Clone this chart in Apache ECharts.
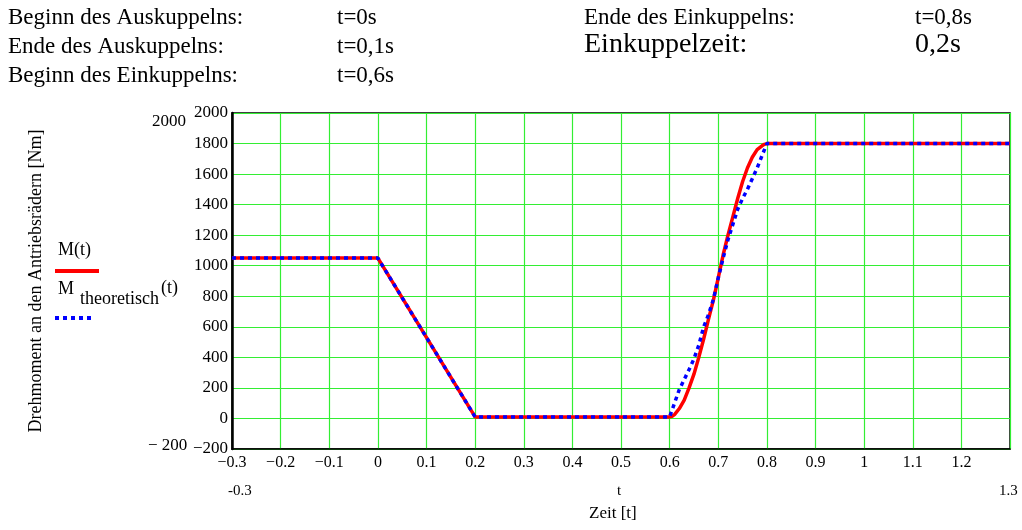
<!DOCTYPE html>
<html><head><meta charset="utf-8">
<script src="https://cdn.jsdelivr.net/npm/echarts@6/dist/echarts.min.js"></script>
<style>html,body{margin:0;padding:0;background:#fff}#c{width:1022px;height:530px}</style>
</head><body><div id="c"></div>
<script>
// Data
var times  = [-0.3, 0, 0.2, 0.6, 0.605, 0.61, 0.62, 0.63, 0.64, 0.65, 0.66, 0.67, 0.68, 0.69, 0.70, 0.71, 0.72, 0.73, 0.74, 0.75, 0.76, 0.77, 0.78, 0.79, 0.795, 0.80, 1.3];
var mValues    = [1050, 1050, 10, 10, 14, 25, 65, 120, 200, 290, 400, 520, 650, 775, 920, 1070, 1200, 1320, 1440, 1550, 1640, 1710, 1760, 1785, 1795, 1800, 1800];
var mTheoValues = [1050, 1050, 10, 10, 55, 100, 190, 255, 320, 390, 480, 600, 680, 780, 920, 1050, 1170, 1270, 1370, 1440, 1500, 1570, 1640, 1720, 1760, 1800, 1800];
var yTicks = [-200, 0, 200, 400, 600, 800, 1000, 1200, 1400, 1600, 1800, 2000];
var xMin = -0.3, xMax = 1.3, xStep = 0.1;
var infoLeft = [["Beginn des Auskuppelns:", "t=0s"], ["Ende des Auskuppelns:", "t=0,1s"], ["Beginn des Einkuppelns:", "t=0,6s"]];
var infoRight = [["Ende des Einkuppelns:", "t=0,8s"], ["Einkuppelzeit:", "0,2s"]];

function pairs(xs, ys){ return xs.map(function(x,i){ return [x, ys[i]]; }); }
function fmt(v){
  var r = Number(v.toFixed(1));
  var s = String(Math.abs(r));
  return (r < 0 ? '\u2212' : '') + s;
}
var FONT = '"Liberation Serif", "DejaVu Serif", serif';
var chart = echarts.init(document.getElementById('c'), null, {renderer:'canvas'});

var graphics = [];
infoLeft.forEach(function(r,i){
  graphics.push({type:'text', left:8, top:6+i*29, style:{text:r[0], font:'23px '+FONT, fill:'#000'}});
  graphics.push({type:'text', left:337, top:6+i*29, style:{text:r[1], font:'23px '+FONT, fill:'#000'}});
});
graphics.push({type:'text', left:584, top:6, style:{text:infoRight[0][0], font:'23px '+FONT, fill:'#000'}});
graphics.push({type:'text', left:915, top:6, style:{text:infoRight[0][1], font:'23px '+FONT, fill:'#000'}});
graphics.push({type:'text', left:584, top:31, style:{text:infoRight[1][0], font:'28px '+FONT, fill:'#000'}});
graphics.push({type:'text', left:915, top:31, style:{text:infoRight[1][1], font:'28px '+FONT, fill:'#000'}});
// extra axis limit labels (Mathcad style)
graphics.push({type:'text', left:152, top:113, style:{text:String(yTicks[yTicks.length-1]), font:'17px '+FONT, fill:'#000'}});
graphics.push({type:'text', left:148, top:437, style:{text:'\u2212 ' + Math.abs(yTicks[0]), font:'17px '+FONT, fill:'#000'}});
graphics.push({type:'text', left:228, top:484, style:{text:'-' + Math.abs(xMin), font:'15px '+FONT, fill:'#000'}});
graphics.push({type:'text', left:617, top:484, style:{text:'t', font:'15px '+FONT, fill:'#000'}});
graphics.push({type:'text', left:999, top:484, style:{text:String(xMax), font:'15px '+FONT, fill:'#000'}});
graphics.push({type:'text', left:589, top:505, style:{text:'Zeit [t]', font:'17px '+FONT, fill:'#000'}});
// legend
graphics.push({type:'text', left:58, top:241, style:{text:'M(t)', font:'18px '+FONT, fill:'#000'}});
graphics.push({type:'line', shape:{x1:55,y1:271,x2:99,y2:271}, style:{stroke:'#ff0000', lineWidth:4}});
graphics.push({type:'text', left:58, top:280, style:{text:'M', font:'18px '+FONT, fill:'#000'}});
graphics.push({type:'text', left:80, top:290, style:{text:'theoretisch', font:'18px '+FONT, fill:'#000'}});
graphics.push({type:'text', left:161, top:279, style:{text:'(t)', font:'18px '+FONT, fill:'#000'}});
graphics.push({type:'line', shape:{x1:55,y1:318,x2:93,y2:318}, style:{stroke:'#0000ff', lineWidth:4, lineDash:[4,4]}});

chart.setOption({
  animation:false,
  backgroundColor:'#fff',
  textStyle:{fontFamily:FONT},
  grid:{left:232, right:12, top:113, bottom:81, show:true, borderColor:'#000', borderWidth:1.5, backgroundColor:'transparent'},
  graphic:graphics,
  xAxis:{type:'value', min:xMin, max:xMax, interval:xStep,
    axisLine:{show:true, onZero:false, lineStyle:{color:'#000', width:1.5}},
    axisTick:{show:false},
    axisLabel:{color:'#000', fontSize:16, fontFamily:FONT, margin:6,
      formatter:function(v){ return Math.abs(v-xMax)<1e-6 ? '' : fmt(v); }},
    splitLine:{show:true, lineStyle:{color:'#33ee33', width:1.2}}
  },
  yAxis:{type:'value', min:yTicks[0], max:yTicks[yTicks.length-1], interval:200,
    name:'Drehmoment an den Antriebsrädern [Nm]', nameLocation:'middle', nameGap:187, nameRotate:90,
    nameTextStyle:{color:'#000', fontSize:18, fontFamily:FONT},
    axisLine:{show:true, onZero:false, lineStyle:{color:'#000', width:2.5}},
    axisTick:{show:false},
    axisLabel:{color:'#000', fontSize:17, fontFamily:FONT, margin:4, formatter:function(v){ return fmt(v); }},
    splitLine:{show:true, lineStyle:{color:'#33ee33', width:1.2}}
  },
  series:[
    {name:'M(t)', type:'line', data:pairs(times, mValues), smooth:false, showSymbol:false,
      lineStyle:{color:'#ff0000', width:3.5}, z:3},
    {name:'M theoretisch(t)', type:'line', data:pairs(times, mTheoValues), smooth:false, showSymbol:false,
      lineStyle:{color:'#0000ff', width:3.5, type:[4,4]}, z:4}
  ]
});
</script></body></html>
